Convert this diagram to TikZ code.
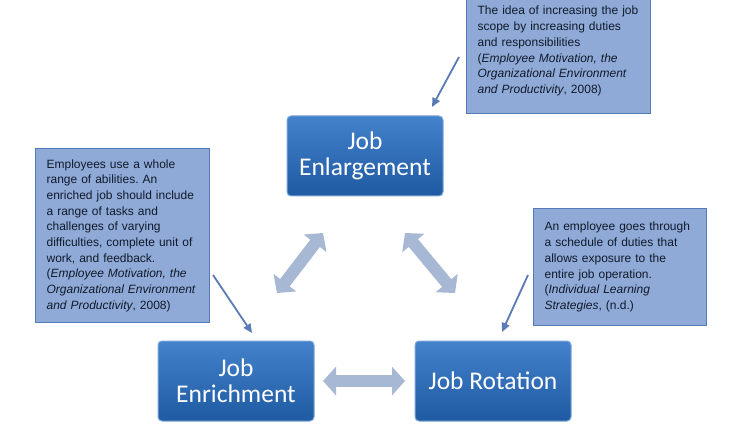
\documentclass[tikz,border=0pt]{standalone}
\usepackage{fontspec}
\setmainfont{Liberation Sans}
\newfontfamily\jobfont{Carlito}
\usepackage{xcolor}
\usetikzlibrary{shapes,arrows.meta,positioning,calc}
\frenchspacing

\definecolor{jobtop}{HTML}{4382CC}
\definecolor{jobbottom}{HTML}{1F5AA2}
\definecolor{jobedge}{HTML}{7EA6D8}
\definecolor{notefill}{HTML}{8FAAD6}
\definecolor{noteedge}{HTML}{5479B8}
\definecolor{notetext}{HTML}{111A2C}
\definecolor{pointblue}{HTML}{5A7BB6}
\definecolor{swapfill}{HTML}{A6B8D4}

\begin{document}
\begin{tikzpicture}[x=1pt,y=-1pt,
  jobbox/.style={rectangle,rounded corners=4pt,draw=jobedge,line width=1pt,
    top color=jobtop,bottom color=jobbottom,text=white,align=center,
    font=\jobfont\fontsize{25.5}{26}\selectfont,
    minimum width=156pt,minimum height=80pt,inner sep=0pt},
  notebox/.style={rectangle,draw=noteedge,line width=1.2pt,fill=notefill,
    anchor=north west,inner xsep=11pt,inner ysep=0pt,align=left,text=notetext,
    font=\fontsize{12}{15.7}\selectfont},
  pointer/.style={draw=pointblue,line width=1.8pt,
    -{Triangle[width=8pt,length=9pt]}},
  swap/.style={draw=swapfill,line width=12pt,
    {Triangle[width=28pt,length=13pt]}-{Triangle[width=28pt,length=13pt]}}
]
\useasboundingbox[fill=white] (0,0) rectangle (751,430);

% Job boxes
\node[jobbox] (enr) at (236,381) {Job\\Enrichment};
\node[jobbox,right=100pt of enr] (rot) {Job Rotation};
\node[jobbox] (enl) at (365,156) {Job\\Enlargement};

% Notes
\node[notebox,text width=162pt,minimum height=125pt] (nEnl) at (466,-12)
  {The idea of increasing the job\\scope by increasing duties\\and responsibilities\\
   (\textit{Employee Motivation, the}\\\textit{Organizational Environment}\\
   \textit{and Productivity}, 2008)};
\node[notebox,text width=152pt,minimum height=174pt] (nEnr) at (35,148)
  {Employees use a whole\\range of abilities. An\\enriched job should include\\
   a range of tasks and\\challenges of varying\\difficulties, complete unit of\\
   work, and feedback.\\(\textit{Employee Motivation, the}\\
   \textit{Organizational Environment}\\\textit{and Productivity}, 2008)};
\node[notebox,text width=151pt,minimum height=117pt] (nRot) at (533,208)
  {An employee goes through\\a schedule of duties that\\allows exposure to the\\
   entire job operation.\\(\textit{Individual Learning}\\\textit{Strategies}, (n.d.)};

% Pointer ends
\coordinate (pEnlA) at (459,57);
\coordinate (pEnlB) at (432,107);
\coordinate (pEnrA) at (213,275);
\coordinate (pEnrB) at (252,333);
\coordinate (pRotA) at (528,275);
\coordinate (pRotB) at (502,332);

\draw[pointer] (pEnlA) -- (pEnlB);
\draw[pointer] (pEnrA) -- (pEnrB);
\draw[pointer] (pRotA) -- (pRotB);

% Two-way arrows
\coordinate (sLa) at (277,293);
\coordinate (sLb) at (323,233);
\coordinate (sRa) at (405,233);
\coordinate (sRb) at (455,293);
\coordinate (sBa) at (323,381);
\coordinate (sBb) at (405,381);

\draw[swap] (sLa) -- (sLb);
\draw[swap] (sRa) -- (sRb);
\draw[swap] (sBa) -- (sBb);
\end{tikzpicture}
\end{document}
